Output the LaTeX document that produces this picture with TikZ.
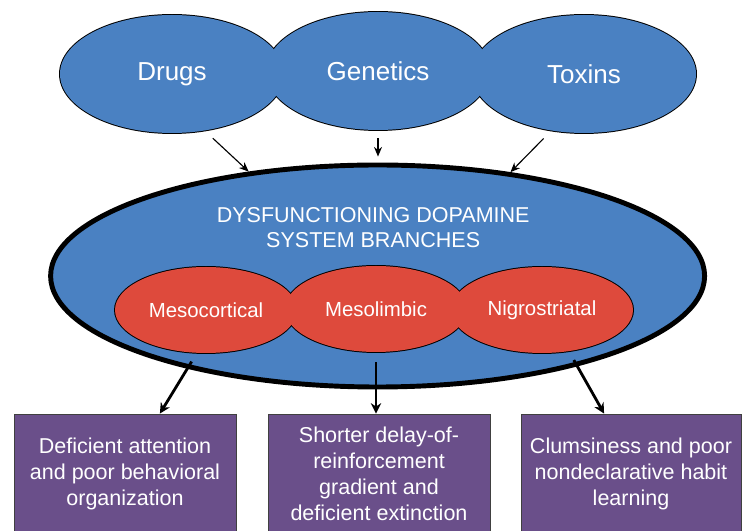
\documentclass[tikz,border=0pt]{standalone}
\usepackage{fontspec}
\setmainfont{Liberation Sans}
\usepackage{tikz}
\usetikzlibrary{arrows.meta, shapes.geometric}
\usepackage{xcolor}

\definecolor{dopblue}{RGB}{74,129,194}
\definecolor{dopred}{RGB}{222,74,60}
\definecolor{doppurple}{RGB}{106,79,138}

\pgfdeclarelayer{bottom}
\pgfdeclarelayer{rim}
\pgfsetlayers{bottom,rim,main}

\begin{document}
\begin{tikzpicture}[
causeblob/.style={ellipse,
fill=dopblue,
minimum width=5.6cm,
minimum height=2.95cm,
inner sep=0pt,
text=white,
font=\fontsize{18.5}{22}\selectfont},
branchblob/.style={ellipse,
fill=dopred,
minimum width=4.55cm,
minimum height=2.15cm,
inner sep=0pt,
text=white,
font=\fontsize{14.5}{17}\selectfont},
hubring/.style={ellipse,
draw,
line width=3.5pt,
fill=dopblue,
minimum width=16.35cm,
minimum height=5.55cm,
inner sep=0pt},
effectbox/.style={rectangle,
draw=black!75,
line width=0.6pt,
fill=doppurple,
minimum width=5.55cm,
minimum height=3cm,
align=center,
text=white,
font=\fontsize{15.3}{18.5}\selectfont},
thinarrow/.style={-{Stealth[length=2.4mm, width=2mm]}, line width=0.8pt},
thickarrow/.style={-{Stealth[length=2.6mm, width=2.6mm]}, line width=2pt}
]

\useasboundingbox (0,0) rectangle (18.55,13.275);

% big system ellipse
\begin{pgfonlayer}{bottom}
\node[hubring] (hub) at (9.44,6.375) {};
\end{pgfonlayer}
\node[align=center, text=white, font=\fontsize{15.3}{17.8}\selectfont] (title) at (9.33,7.59) {DYSFUNCTIONING DOPAMINE\\SYSTEM BRANCHES};

% causes
\node[causeblob] (drugs) at (4.3,11.425) {Drugs};
\node[causeblob] (genetics) at (9.45,11.5) {Genetics};
\node[causeblob] (toxins) at (14.6,11.425) {Toxins};

% branches
\node[branchblob] (meso) at (5.15,5.525) {Mesocortical};
\node[branchblob] (limbic) at (9.4,5.55) {Mesolimbic};
\node[branchblob] (nigro) at (13.55,5.525) {Nigrostriatal};

% effects
\node[effectbox] (attn) at (3.125,1.425) {Deficient attention\\and poor behavioral\\organization};
\node[effectbox] (delay) at (9.475,1.425) {Shorter delay-of-\\reinforcement\\gradient and\\deficient extinction};
\node[effectbox, minimum width=5.5cm] (clumsy) at (15.775,1.425) {Clumsiness and poor\\nondeclarative habit\\learning};

% outlines under the fills
\begin{pgfonlayer}{rim}
\foreach \blob in {drugs, genetics, toxins}
  \draw[line width=1.4pt] (\blob.center) ellipse [x radius=2.8cm, y radius=1.475cm];
\foreach \blob in {meso, limbic, nigro}
  \draw[line width=1.4pt] (\blob.center) ellipse [x radius=2.275cm, y radius=1.075cm];
\end{pgfonlayer}

\draw[thinarrow, shorten <=0.275cm] (drugs.-60) -- (hub.141);
\draw[thinarrow, shorten <=0.2cm, shorten >=0.15cm] (genetics.south) -- (genetics.south |- hub.north);
\draw[thinarrow, shorten <=0.275cm] (toxins.-120) -- (hub.38);

\draw[thickarrow, shorten <=0.25cm] (meso.-102) -- (attn.60);
\draw[thickarrow, shorten <=0.25cm] (limbic.south) -- (limbic.south |- delay.north);
\draw[thickarrow, shorten <=0.25cm] (nigro.-57) -- (clumsy.114);

\end{tikzpicture}
\end{document}
